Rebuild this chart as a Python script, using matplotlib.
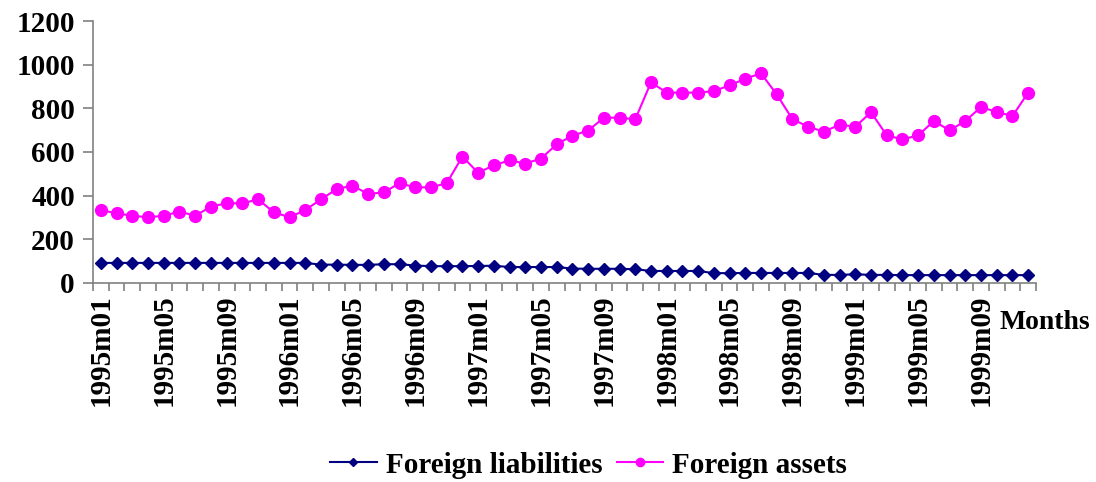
"""Foreign liabilities vs foreign assets, monthly 1995m01-1999m12."""

import matplotlib
matplotlib.use("Agg")
import matplotlib.pyplot as plt
import numpy as np

plt.rcParams["font.family"] = ["Liberation Serif", "DejaVu Serif"]
plt.rcParams["font.weight"] = "bold"

MONTHS = [f"{y}m{m:02d}" for y in range(1995, 2000) for m in range(1, 13)]

LIABILITIES = [92, 92, 92, 92, 92, 92, 92, 92, 92, 92, 92, 92,
               92, 92, 84, 84, 83, 83, 86, 86, 80, 77, 77, 77,
               78, 79, 73, 73, 73, 73, 66, 65, 65, 65, 63, 55,
               55, 55, 55, 45, 45, 46, 46, 46, 46, 46, 37, 37,
               40, 37, 37, 36, 36, 36, 36, 36, 36, 36, 36, 36]

ASSETS = [334, 319, 308, 301, 308, 327, 308, 350, 365, 365, 383, 324,
          301, 334, 383, 430, 446, 408, 415, 457, 438, 438, 457, 579,
          505, 539, 562, 547, 570, 635, 675, 698, 757, 757, 750, 919,
          872, 872, 872, 879, 905, 936, 960, 864, 750, 716, 693, 725,
          716, 782, 676, 658, 676, 742, 699, 742, 806, 783, 765, 872]

LABEL_STEP = 4
AXIS_GREY = "#808080"


def main():
    fig = plt.figure(figsize=(10.96, 4.82), dpi=100)
    ax = fig.add_axes([0.0849, 0.4129, 0.8604, 0.5435])

    x = np.arange(len(MONTHS))
    ax.plot(x, LIABILITIES, color="#000080", lw=1.5, marker="D", ms=6,
            label="Foreign liabilities", zorder=3)
    ax.plot(x, ASSETS, color="#FF00FF", lw=1.5, marker="o", ms=8.5,
            label="Foreign assets", zorder=3)

    ax.set_xlim(-0.5, len(MONTHS) - 0.5)
    ax.set_ylim(0, 1200)
    ax.set_yticks(range(0, 1201, 200))

    # category axis: ticks between months, labels every 4th month
    ax.set_xticks(np.arange(len(MONTHS) + 1) - 0.5)
    ax.set_xticklabels([])
    ax.set_xticks(x[::LABEL_STEP], minor=True)
    ax.set_xticklabels(MONTHS[::LABEL_STEP], minor=True, rotation=90,
                       fontsize=21, fontweight="bold")
    ax.tick_params(axis="x", which="minor", length=0, pad=8)
    ax.tick_params(axis="x", which="major", direction="out", length=6,
                   color=AXIS_GREY, width=1.2)
    ax.tick_params(axis="y", direction="out", length=7, color=AXIS_GREY,
                   width=1.2, labelsize=21, pad=6)
    for lbl in ax.get_yticklabels():
        lbl.set_fontweight("bold")

    for side in ("top", "right"):
        ax.spines[side].set_visible(False)
    for side in ("left", "bottom"):
        ax.spines[side].set_color(AXIS_GREY)
        ax.spines[side].set_linewidth(1.2)

    fig.text(0.995, 0.331, "Months", ha="right", va="center",
             fontsize=20, fontweight="bold")

    fig.legend(loc="center", bbox_to_anchor=(0.537, 0.035), ncol=2,
               frameon=False, fontsize=21, handlelength=1.6,
               columnspacing=0.5, handletextpad=0.3, markerscale=0.7)

    fig.savefig("out.png", dpi=100)


if __name__ == "__main__":
    main()
